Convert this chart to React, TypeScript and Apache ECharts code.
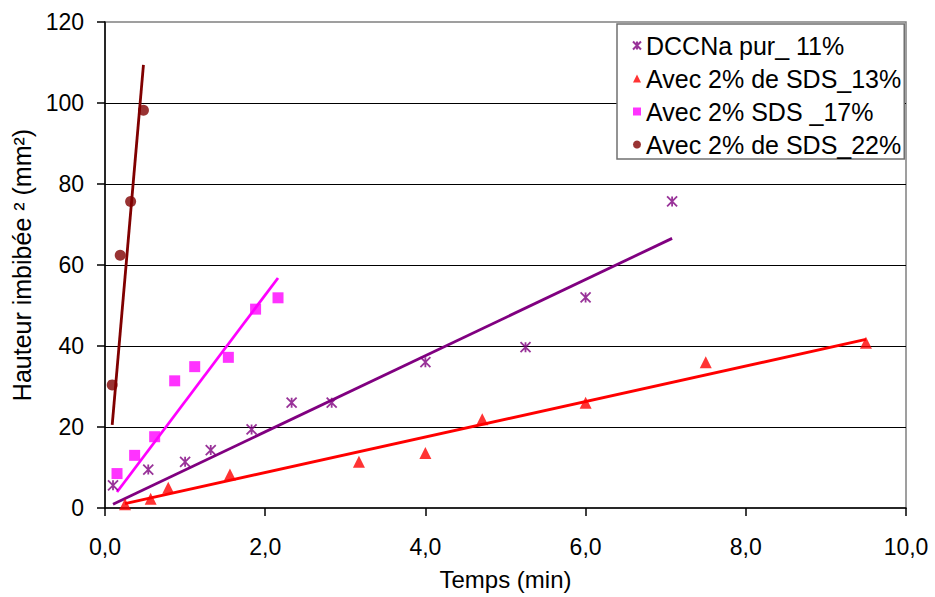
import React, { useEffect, useRef } from "react";
import * as echarts from "echarts";

const seriesNames = [
  "DCCNa pur_ 11%",
  "Avec 2% de SDS_13%",
  "Avec 2% SDS _17%",
  "Avec 2% de SDS_22%",
];
const purpleX = [0.1, 0.54, 1.0, 1.32, 1.83, 2.33, 2.83, 4.0, 5.25, 6.0, 7.08];
const purpleY = [5.6, 9.5, 11.4, 14.3, 19.4, 26.0, 26.0, 36.0, 39.7, 52.0, 75.7];
const redX = [0.25, 0.57, 0.79, 1.56, 3.17, 4.0, 4.71, 6.0, 7.5, 9.5];
const redY = [0.9, 2.3, 5.0, 8.3, 11.4, 13.6, 21.9, 26.0, 36.0, 40.8];
const magentaX = [0.15, 0.37, 0.62, 0.87, 1.12, 1.54, 1.88, 2.16];
const magentaY = [8.5, 13.0, 17.6, 31.4, 34.9, 37.2, 49.1, 51.9];
const brownX = [0.09, 0.19, 0.32, 0.48];
const brownY = [30.4, 62.4, 75.7, 98.2];
const colors = ["#800080", "#FF0000", "#FF00FF", "#800000"];

const FONT = "'Liberation Sans', Arial, sans-serif";

function pairs(xs: number[], ys: number[]) {
  return xs.map((x, i) => [x, ys[i]]);
}

// linear trend through origin (least squares), over the data's x range
function trend(xs: number[], ys: number[]) {
  let sxy = 0;
  let sxx = 0;
  xs.forEach((x, i) => {
    sxy += x * ys[i];
    sxx += x * x;
  });
  const k = sxy / sxx;
  const x0 = Math.min(...xs);
  const x1 = Math.max(...xs);
  return [
    [x0, k * x0],
    [x1, k * x1],
  ];
}

export default function App() {
  const ref = useRef<HTMLDivElement>(null);
  useEffect(() => {
    if (!ref.current) return;
    const chart = echarts.init(ref.current, null, { renderer: "svg" });
    const sets = [
      { x: purpleX, y: purpleY, symbol: "path://M0,0L10,10M10,0L0,10M5,0L5,10", size: 10 },
      { x: redX, y: redY, symbol: "triangle", size: 12 },
      { x: magentaX, y: magentaY, symbol: "rect", size: 11 },
      { x: brownX, y: brownY, symbol: "circle", size: 11 },
    ];
    const lineSeries = sets.map((s, i) => ({
      type: "line",
      name: "trend" + i,
      data: trend(s.x, s.y),
      showSymbol: false,
      silent: true,
      lineStyle: { color: colors[i], width: 2.8 },
      z: 2,
    }));
    const scatterSeries = sets.map((s, i) => ({
      type: "scatter",
      name: seriesNames[i],
      data: pairs(s.x, s.y),
      symbol: s.symbol,
      symbolSize: s.size,
      itemStyle:
        i === 0
          ? { color: "rgba(0,0,0,0)", borderColor: colors[i], borderWidth: 1.8 }
          : { color: colors[i] },
      z: 3,
    }));
    chart.setOption({
      animation: false,
      backgroundColor: "#ffffff",
      textStyle: { fontFamily: FONT },
      grid: {
        left: 105,
        right: 29,
        top: 22,
        bottom: 89,
        show: true,
        borderColor: "#808080",
        borderWidth: 1.5,
        backgroundColor: "#ffffff",
      },
      legend: {
        data: seriesNames,
        orient: "vertical",
        left: 617,
        top: 24,
        padding: [9, 3, 2, 15],
        itemWidth: 8,
        itemHeight: 8,
        itemGap: 8,
        backgroundColor: "#ffffff",
        borderColor: "#707070",
        borderWidth: 1.5,
        textStyle: { fontFamily: FONT, fontSize: 25, lineHeight: 25, color: "#000" },
      },
      xAxis: {
        type: "value",
        min: 0,
        max: 10,
        interval: 2,
        name: "Temps (min)",
        nameLocation: "middle",
        nameGap: 59,
        nameTextStyle: { fontFamily: FONT, fontSize: 24, color: "#000" },
        axisLine: { show: true, lineStyle: { color: "#000", width: 1.5 } },
        axisTick: { show: true, inside: false, length: 8, lineStyle: { color: "#000", width: 1.5 } },
        axisLabel: {
          margin: 27,
          fontFamily: FONT,
          fontSize: 23,
          color: "#000",
          formatter: (v: number) => v.toFixed(1).replace(".", ","),
        },
        splitLine: { show: false },
      },
      yAxis: {
        type: "value",
        min: 0,
        max: 120,
        interval: 20,
        name: "Hauteur imbibée ² (mm²)",
        nameLocation: "middle",
        nameGap: 63,
        nameTextStyle: { fontFamily: FONT, fontSize: 25, color: "#000" },
        axisLine: { show: true, lineStyle: { color: "#000", width: 1.5 } },
        axisTick: { show: true, inside: false, length: 8, lineStyle: { color: "#000", width: 1.5 } },
        axisLabel: { margin: 21, fontFamily: FONT, fontSize: 23, color: "#000" },
        splitLine: {
          show: true,
          showMinLine: false,
          showMaxLine: false,
          lineStyle: { color: "#000", width: 1.2 },
        },
      },
      series: [...lineSeries, ...scatterSeries],
    });
    return () => chart.dispose();
  }, []);
  return (
    <div
      ref={ref}
      style={{ position: "fixed", left: 0, top: 0, width: 935, height: 597, background: "#fff" }}
    />
  );
}
